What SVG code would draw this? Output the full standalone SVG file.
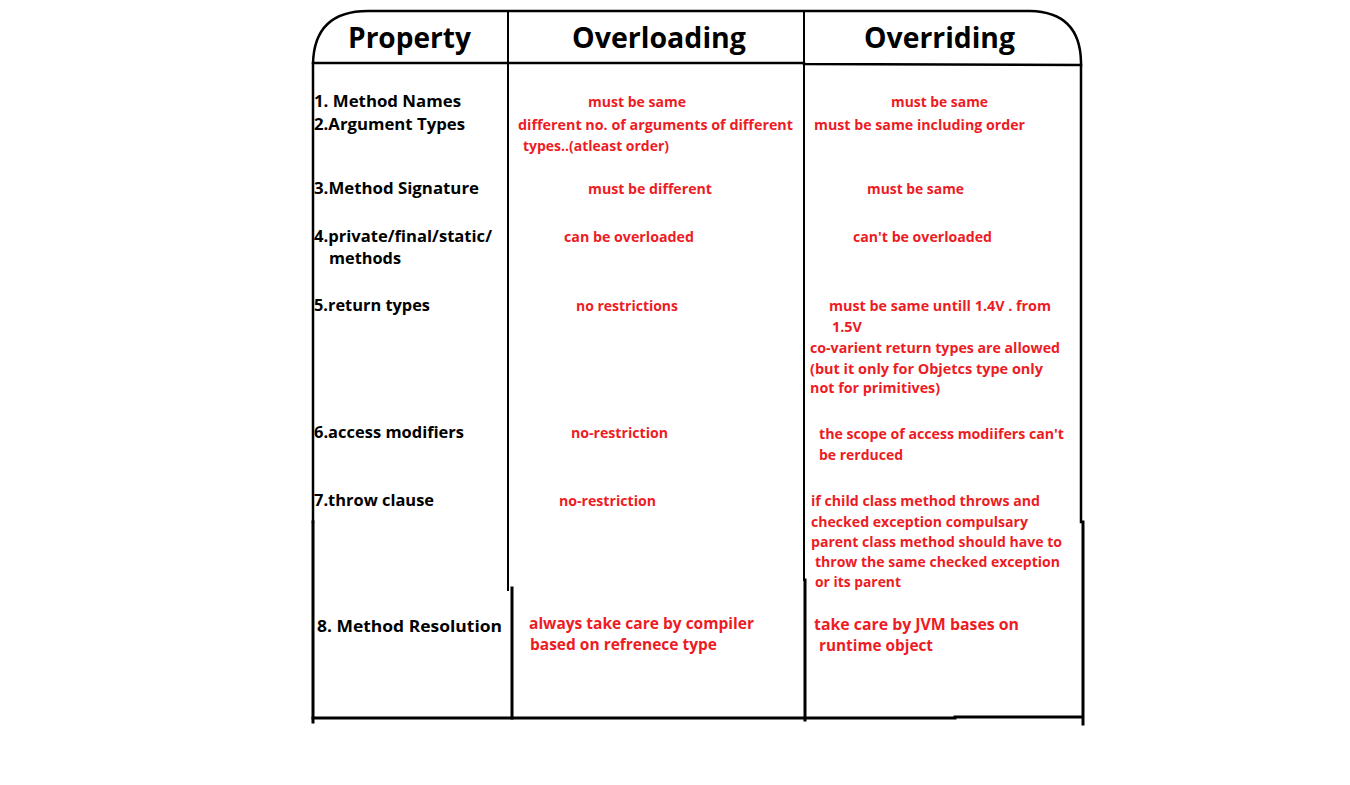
<svg xmlns="http://www.w3.org/2000/svg" width="1350" height="785" viewBox="0 0 1350 785">
<style>
.ln{fill:none;stroke:#000;stroke-linecap:square}
.hd{font-family:"Open Sans","Noto Sans",sans-serif;font-weight:bold;font-size:29px;fill:#000}
.pr{font-family:"Open Sans","Noto Sans",sans-serif;font-weight:bold;font-size:16.5px;fill:#000}
.rd{font-family:"Open Sans","Noto Sans",sans-serif;font-weight:bold;font-size:14.5px;fill:#ED1C24}
.rl{font-family:"Open Sans","Noto Sans",sans-serif;font-weight:bold;font-size:16.5px;fill:#ED1C24}
</style>
<rect width="1350" height="785" fill="#fff"/>
<g id="table">
<path class="ln" stroke-width="2.5" d="M313,522 L313,64 Q314,11 368,11 L1030,11 Q1080,12 1081,62 L1081,522"/>
<path class="ln" stroke-width="3" d="M313,522 L313,722"/>
<path class="ln" stroke-width="3" d="M1083,522 L1083,724"/>
<path class="ln" stroke-width="2.5" d="M313,63 L804,63 L804,64 L1081,65"/>
<path class="ln" stroke-width="2" d="M508,11 L508,590"/>
<path class="ln" stroke-width="3" d="M512,588 L512,718"/>
<path class="ln" stroke="#333" stroke-width="2" d="M804,12 L804,580"/>
<path class="ln" stroke-width="3" d="M805,580 L805,720"/>
<path class="ln" stroke-width="3" d="M313,718 L955,718"/>
<path class="ln" stroke-width="3" d="M955,717 L1082,717"/>
</g>
<g id="header">
<text class="hd" x="348" y="48" textLength="123" lengthAdjust="spacingAndGlyphs">Property</text>
<text class="hd" x="572" y="48" textLength="174" lengthAdjust="spacingAndGlyphs">Overloading</text>
<text class="hd" x="864" y="48" textLength="151" lengthAdjust="spacingAndGlyphs">Overriding</text>
</g>
<g id="properties">
<text class="pr" x="314" y="107" textLength="147" lengthAdjust="spacingAndGlyphs">1. Method Names</text>
<text class="pr" x="314" y="130" textLength="151" lengthAdjust="spacingAndGlyphs">2.Argument Types</text>
<text class="pr" x="314" y="194" textLength="165" lengthAdjust="spacingAndGlyphs">3.Method Signature</text>
<text class="pr" x="314" y="242" textLength="178" lengthAdjust="spacingAndGlyphs">4.private/final/static/</text>
<text class="pr" x="329" y="264" textLength="72" lengthAdjust="spacingAndGlyphs">methods</text>
<text class="pr" x="314" y="311" textLength="116" lengthAdjust="spacingAndGlyphs">5.return types</text>
<text class="pr" x="314" y="438" textLength="150" lengthAdjust="spacingAndGlyphs">6.access modifiers</text>
<text class="pr" x="314" y="506" textLength="120" lengthAdjust="spacingAndGlyphs">7.throw clause</text>
<text class="pr" x="317" y="632" textLength="185" lengthAdjust="spacingAndGlyphs">8. Method Resolution</text>
</g>
<g id="overloading">
<text class="rd" x="588" y="107" textLength="98" lengthAdjust="spacingAndGlyphs">must be same</text>
<text class="rd" x="518" y="130" textLength="275" lengthAdjust="spacingAndGlyphs">different no. of arguments of different</text>
<text class="rd" x="523" y="151" textLength="146" lengthAdjust="spacingAndGlyphs">types..(atleast order)</text>
<text class="rd" x="588" y="194" textLength="124" lengthAdjust="spacingAndGlyphs">must be different</text>
<text class="rd" x="564" y="242" textLength="130" lengthAdjust="spacingAndGlyphs">can be overloaded</text>
<text class="rd" x="576" y="311" textLength="102" lengthAdjust="spacingAndGlyphs">no restrictions</text>
<text class="rd" x="571" y="438" textLength="97" lengthAdjust="spacingAndGlyphs">no-restriction</text>
<text class="rd" x="559" y="506" textLength="97" lengthAdjust="spacingAndGlyphs">no-restriction</text>
<text class="rl" x="529" y="629" textLength="225" lengthAdjust="spacingAndGlyphs">always take care by compiler</text>
<text class="rl" x="530" y="650" textLength="187" lengthAdjust="spacingAndGlyphs">based on refrenece type</text>
</g>
<g id="overriding">
<text class="rd" x="891" y="107" textLength="97" lengthAdjust="spacingAndGlyphs">must be same</text>
<text class="rd" x="814" y="130" textLength="211" lengthAdjust="spacingAndGlyphs">must be same including order</text>
<text class="rd" x="867" y="194" textLength="97" lengthAdjust="spacingAndGlyphs">must be same</text>
<text class="rd" x="853" y="242" textLength="139" lengthAdjust="spacingAndGlyphs">can't be overloaded</text>
<text class="rd" x="829" y="311" textLength="222" lengthAdjust="spacingAndGlyphs">must be same untill 1.4V . from</text>
<text class="rd" x="832" y="332" textLength="30" lengthAdjust="spacingAndGlyphs">1.5V</text>
<text class="rd" x="810" y="353" textLength="250" lengthAdjust="spacingAndGlyphs">co-varient return types are allowed</text>
<text class="rd" x="810" y="374" textLength="233" lengthAdjust="spacingAndGlyphs">(but it only for Objetcs type only</text>
<text class="rd" x="810" y="393" textLength="130" lengthAdjust="spacingAndGlyphs">not for primitives)</text>
<text class="rd" x="819" y="439" textLength="245" lengthAdjust="spacingAndGlyphs">the scope of access modiifers can't</text>
<text class="rd" x="819" y="460" textLength="84" lengthAdjust="spacingAndGlyphs">be rerduced</text>
<text class="rd" x="811" y="506" textLength="229" lengthAdjust="spacingAndGlyphs">if child class method throws and</text>
<text class="rd" x="811" y="527" textLength="217" lengthAdjust="spacingAndGlyphs">checked exception compulsary</text>
<text class="rd" x="811" y="547" textLength="251" lengthAdjust="spacingAndGlyphs">parent class method should have to</text>
<text class="rd" x="815" y="567" textLength="245" lengthAdjust="spacingAndGlyphs">throw the same checked exception</text>
<text class="rd" x="815" y="587" textLength="86" lengthAdjust="spacingAndGlyphs">or its parent</text>
<text class="rl" x="814" y="630" textLength="205" lengthAdjust="spacingAndGlyphs">take care by JVM bases on</text>
<text class="rl" x="819" y="651" textLength="114" lengthAdjust="spacingAndGlyphs">runtime object</text>
</g>
</svg>
